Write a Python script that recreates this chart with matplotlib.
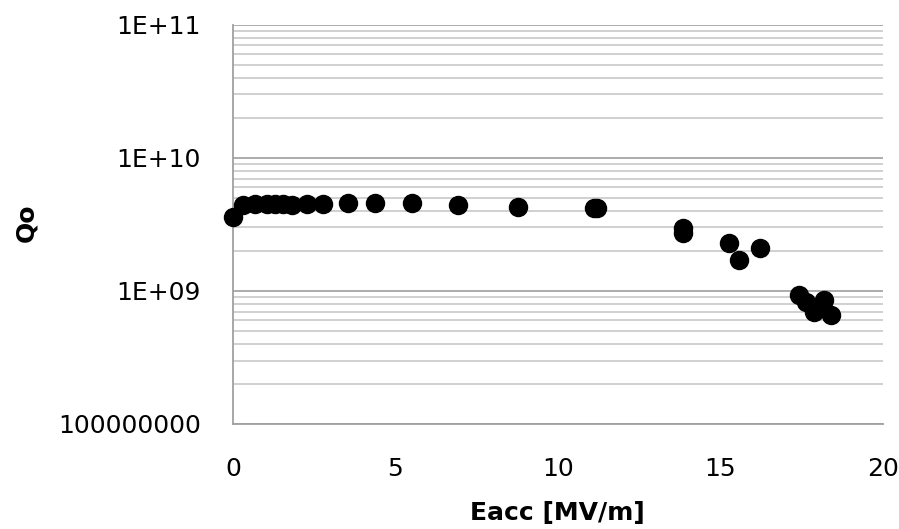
import matplotlib
matplotlib.use("Agg")
from matplotlib import pyplot as plt
from matplotlib.ticker import LogLocator, FixedLocator, FixedFormatter
import numpy as np

# Eacc [MV/m] and Qo
eacc = [0.0, 0.32, 0.68, 1.04, 1.29, 1.55, 1.81, 2.27, 2.78, 3.55, 4.37, 5.5,
        6.93, 8.78, 11.12, 11.22, 13.86, 13.86, 15.26, 15.57, 16.22,
        17.42, 17.63, 17.88, 18.19, 18.40]
qo = [3.62e9, 4.45e9, 4.47e9, 4.47e9, 4.5e9, 4.47e9, 4.45e9, 4.47e9, 4.5e9,
      4.56e9, 4.56e9, 4.56e9, 4.42e9, 4.30e9, 4.18e9, 4.18e9, 2.99e9, 2.72e9,
      2.28e9, 1.71e9, 2.12e9, 9.3e8, 8.3e8, 6.98e8, 8.55e8, 6.6e8]

ytick_vals = [1e8, 1e9, 1e10, 1e11]
ytick_labels = ["100000000", "1E+09", "1E+10", "1E+11"]
xtick_vals = [0, 5, 10, 15, 20]

fig = plt.figure(figsize=(8.99, 5.29), dpi=100)
ax = fig.add_axes([0.259, 0.1985, 0.723, 0.7545])

ax.set_yscale("log")
ax.set_ylim(1e8, 1e11)
ax.set_xlim(0, 20)

# gridlines on every decade subdivision
ax.yaxis.set_major_locator(FixedLocator(ytick_vals))
ax.yaxis.set_major_formatter(FixedFormatter(ytick_labels))
ax.yaxis.set_minor_locator(LogLocator(base=10, subs=np.arange(2, 10)))
ax.grid(True, axis="y", which="major", color="#a6a6a6", lw=1.3)
ax.grid(True, axis="y", which="minor", color="#c8c8c8", lw=1.2)
ax.set_axisbelow(True)

ax.set_xticks(xtick_vals)
ax.tick_params(axis="both", which="both", length=0, labelsize=18)
ax.tick_params(axis="y", pad=23)
ax.tick_params(axis="x", pad=24)

for s in ["top", "right"]:
    ax.spines[s].set_visible(False)
for s in ["left", "bottom"]:
    ax.spines[s].set_color("#a0a0a0")
    ax.spines[s].set_linewidth(1.3)

ax.plot(eacc, qo, "o", color="black", markersize=13, clip_on=False, zorder=3)

ax.set_xlabel("Eacc [MV/m]", fontsize=18, fontweight="bold", labelpad=14)
ax.set_ylabel("Qo", fontsize=18, fontweight="bold")
ax.yaxis.set_label_coords(-0.30, 0.505)

fig.savefig("out.png", dpi=100)
